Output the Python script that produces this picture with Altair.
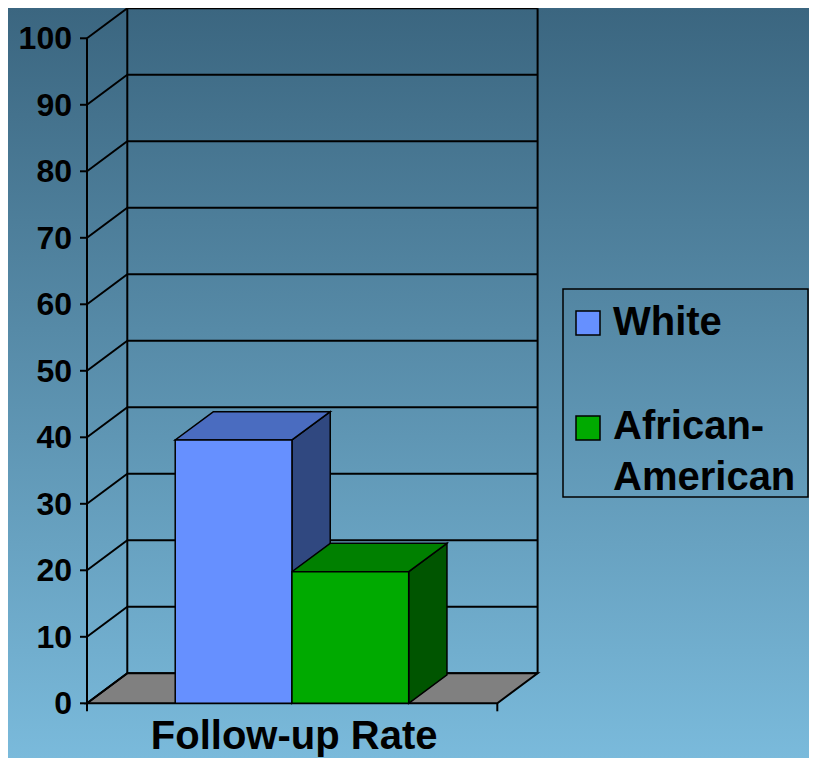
import altair as alt
import pandas as pd

# ---------------- data ----------------
CATS = ["White", "African-American"]
VALUES = [39.6, 19.8]
FRONT = ["#6690ff", "#00aa00"]
TOPC = ["#4a6cc0", "#008000"]
SIDEC = ["#304880", "#005500"]
Y_TICKS = list(range(0, 101, 10))
X_TICKS = [0, 1]
X_TITLE = "Follow-up Rate"

# ---------------- layout / style ----------------
FONT = "Liberation Sans"
DX, DY = 0.0982, 4.51        # depth of the 3-D box (x units, value units)
BDX, BDY = 0.0933, 4.26      # depth of bars
BAR_START, BAR_W = 0.215, 0.2845
TOTAL_W, TOTAL_H = 801, 750
X_RANGE = [79, 529.6]        # pixel span of the data box
Y_RANGE = [695.3, 0.3]
GRAD = {"gradient": "linear", "x1": 0, "y1": 0, "x2": 0, "y2": 1,
        "stops": [{"offset": 0, "color": "#3b6680"},
                  {"offset": 1, "color": "#7abadb"}]}

XS = alt.Scale(domain=[0, 1 + DX], range=X_RANGE, nice=False, zero=False)
YS = alt.Scale(domain=[0, 100 + DY], range=Y_RANGE, nice=False, zero=False)


def X(f, **kw):
    return alt.X(f, type="quantitative", scale=XS, axis=None, **kw)


def Y(f, **kw):
    return alt.Y(f, type="quantitative", scale=YS, axis=None, **kw)


# ---------------- tables ----------------
bars = pd.DataFrame({
    "cat": CATS,
    "v": VALUES,
    "x0": [BAR_START + i * BAR_W for i in range(len(CATS))],
    "x1": [BAR_START + (i + 1) * BAR_W for i in range(len(CATS))],
    "fc": FRONT, "tc": TOPC, "sc": SIDEC,
})
bars["zero"] = 0.0

top_rows, side_rows = [], []
for r in bars.to_dict("records"):
    top_rows.append({"cat": r["cat"], "tc": r["tc"], "y": r["v"], "xa": r["x0"], "xb": r["x1"]})
    top_rows.append({"cat": r["cat"], "tc": r["tc"], "y": r["v"] + BDY,
                     "xa": r["x0"] + BDX, "xb": r["x1"] + BDX})
    side_rows.append({"cat": r["cat"], "sc": r["sc"], "x": r["x1"], "ya": 0.0, "yb": r["v"]})
    side_rows.append({"cat": r["cat"], "sc": r["sc"], "x": r["x1"] + BDX,
                      "ya": BDY, "yb": r["v"] + BDY})
tops = pd.DataFrame(top_rows)
sides = pd.DataFrame(side_rows)

grid = pd.DataFrame({"v": Y_TICKS})
grid["yb"] = grid["v"] + DY
grid["xa"] = DX
grid["xb"] = 1 + DX
grid["x0"] = 0.0

floor = pd.DataFrame({"y": [0.0, DY], "xa": [0.0, DX], "xb": [1.0, 1 + DX]})
walls = pd.DataFrame({"x": [DX, 1 + DX], "ya": [DY, DY], "yb": [100 + DY, 100 + DY]})
front_axis = pd.DataFrame({"x": [0.0], "ya": [0.0], "yb": [100.0]})
xt = pd.DataFrame({"x": X_TICKS})
xtitle = pd.DataFrame({"x": [(X_TICKS[0] + X_TICKS[1]) / 2], "t": [X_TITLE]})
one = pd.DataFrame({"a": [0]})

# ---------------- layers ----------------
bg = alt.Chart(one).mark_rect(fill=GRAD).encode(
    x=alt.value(0), x2=alt.value(TOTAL_W), y=alt.value(0), y2=alt.value(TOTAL_H))

back_grid = alt.Chart(grid).mark_rule(color="black", strokeWidth=2).encode(
    x=X("xa"), x2="xb", y=Y("yb"))
side_grid = alt.Chart(grid).mark_rule(color="black", strokeWidth=2).encode(
    x=X("x0"), x2="xa", y=Y("v"), y2="yb")
wall_edges = alt.Chart(walls).mark_rule(color="black", strokeWidth=2).encode(
    x=X("x"), y=Y("ya"), y2="yb")

floor_l = alt.Chart(floor).mark_area(
    orient="horizontal", color="#808080", stroke="black", strokeWidth=2,
    opacity=1, fillOpacity=1
).encode(y=Y("y"), x=X("xa", stack=None), x2="xb")

side_l = alt.Chart(sides).mark_area(
    orient="vertical", stroke="black", strokeWidth=1.5, fillOpacity=1
).encode(x=X("x"), y=Y("ya", stack=None), y2="yb",
         fill=alt.Fill("sc:N", scale=None), detail="cat:N")

top_l = alt.Chart(tops).mark_area(
    orient="horizontal", stroke="black", strokeWidth=1.5, fillOpacity=1
).encode(y=Y("y"), x=X("xa", stack=None), x2="xb",
         fill=alt.Fill("tc:N", scale=None), detail="cat:N")

front_l = alt.Chart(bars).mark_rect(stroke="black", strokeWidth=1.5).encode(
    x=X("x0"), x2="x1", y=Y("v"), y2="zero",
    fill=alt.Fill("fc:N", scale=None))

# front (value) axis: line, ticks, labels
axis_line = alt.Chart(front_axis).mark_rule(color="black", strokeWidth=2).encode(
    x=X("x"), y=Y("ya"), y2="yb")
y_ticks = alt.Chart(grid).mark_rule(color="black", strokeWidth=2).encode(
    x=alt.value(X_RANGE[0] - 7), x2=alt.value(X_RANGE[0]), y=Y("v"))
y_labels = alt.Chart(grid).mark_text(
    align="right", baseline="middle", font=FONT, fontSize=32,
    fontWeight="bold", color="black", dy=1
).encode(x=alt.value(X_RANGE[0] - 15), y=Y("v"), text="v:Q")
x_ticks = alt.Chart(xt).mark_rule(color="black", strokeWidth=2).encode(
    x=X("x"), y=alt.value(Y_RANGE[0]), y2=alt.value(Y_RANGE[0] + 8))
x_title = alt.Chart(xtitle).mark_text(
    align="center", baseline="alphabetic", font=FONT, fontSize=40,
    fontWeight="bold", color="black", dx=2
).encode(x=X("x"), y=alt.value(741), text="t:N")

# ---------------- legend (drawn from the category arrays) ----------------
LEG_X0, LEG_X1, LEG_Y0, LEG_Y1 = 555, 800, 281, 489
SW_X0, SW_SIZE = 568, 24
SW_Y = [303, 408]
TXT_X = 605
TXT_BASE = [327, 431]

legend_layers = [
    alt.Chart(one).mark_rect(fillOpacity=0, stroke="black", strokeWidth=1.5).encode(
        x=alt.value(LEG_X0), x2=alt.value(LEG_X1),
        y=alt.value(LEG_Y0), y2=alt.value(LEG_Y1))
]
for i, (cat, col) in enumerate(zip(CATS, FRONT)):
    d = pd.DataFrame({"label": [cat], "col": [col]})
    legend_layers.append(
        alt.Chart(d).mark_rect(stroke="black", strokeWidth=1.5).encode(
            x=alt.value(SW_X0), x2=alt.value(SW_X0 + SW_SIZE),
            y=alt.value(SW_Y[i]), y2=alt.value(SW_Y[i] + SW_SIZE),
            fill=alt.Fill("col:N", scale=None)))
    legend_layers.append(
        alt.Chart(d).transform_calculate(
            lbl="replace(datum.label, '-', '-\\n')"
        ).mark_text(
            align="left", baseline="alphabetic", font=FONT, fontSize=40,
            fontWeight="bold", color="black", lineBreak="\n", lineHeight=51
        ).encode(x=alt.value(TXT_X), y=alt.value(TXT_BASE[i]), text="lbl:N"))

chart = alt.layer(
    bg, back_grid, wall_edges, floor_l, side_grid,
    side_l, top_l, front_l, axis_line, y_ticks, y_labels, x_ticks, x_title,
    *legend_layers
).properties(
    width=TOTAL_W, height=TOTAL_H,
    autosize=alt.AutoSizeParams(type="none"),
    padding=0,
).configure_view(stroke=None).configure(background="#5a93b0")

chart.save("out.html", embed_options={"renderer": "svg", "actions": False})
